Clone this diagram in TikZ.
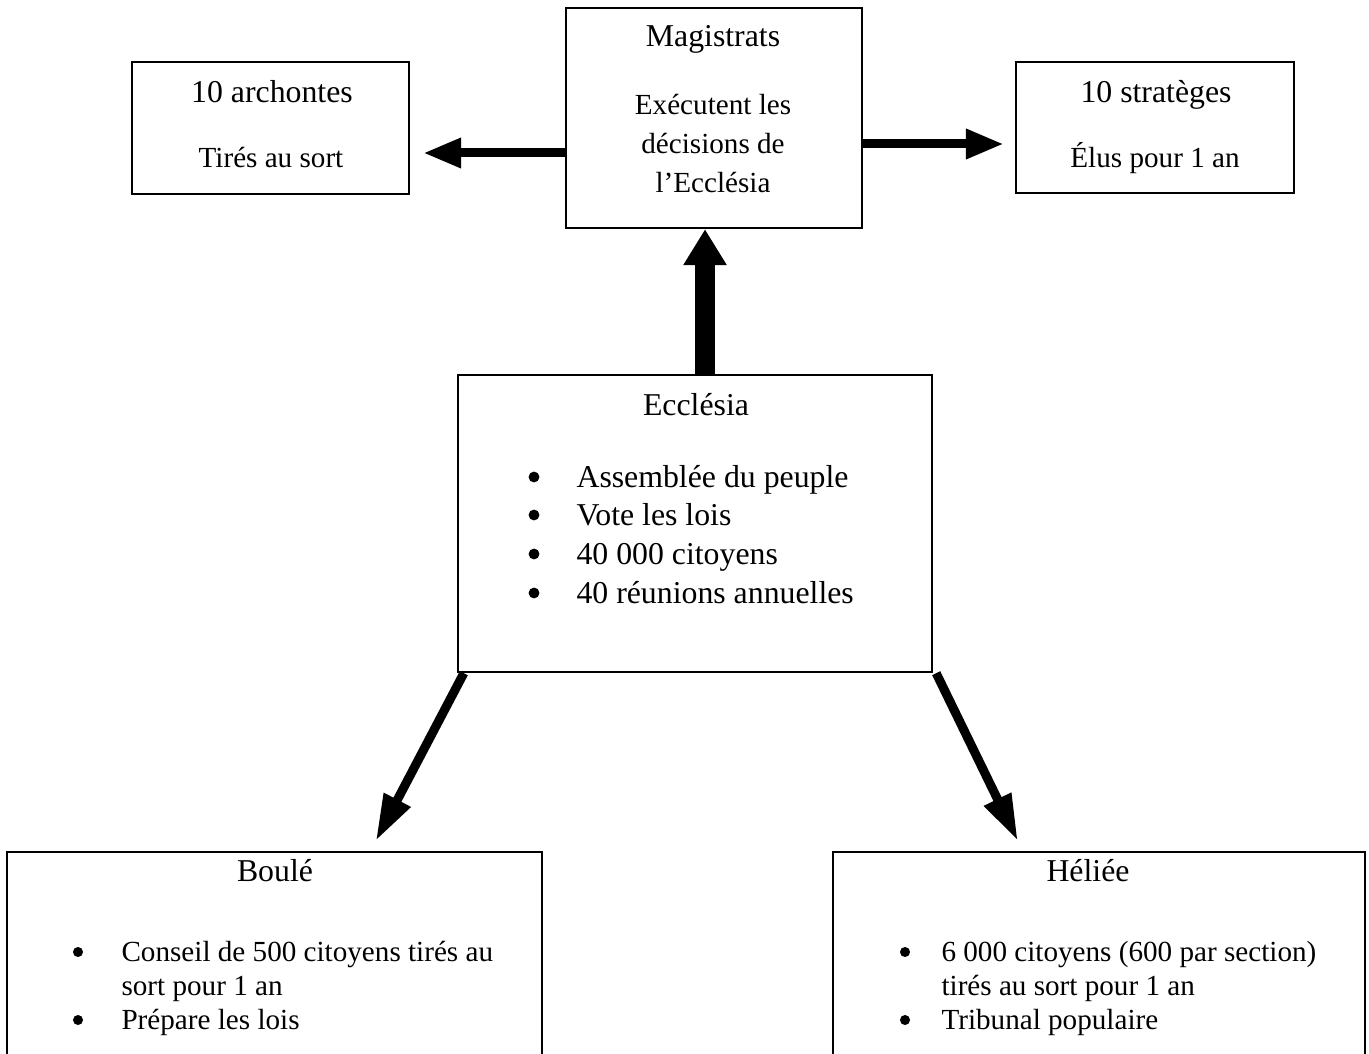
\documentclass[tikz,border=0pt]{standalone}
\usepackage{fontspec}
\setmainfont{Liberation Serif}
\usetikzlibrary{arrows.meta,fit,calc}
\begin{document}
\begin{tikzpicture}[x=0.3774pt, y=-0.3774pt,
  box/.style={draw, line width=0.9pt, inner sep=0pt},
  ttl/.style={anchor=base, inner sep=0pt, font=\fontsize{12}{14}\selectfont},
  sub/.style={anchor=base, inner sep=0pt, font=\fontsize{11}{13}\selectfont},
  eitem/.style={anchor=base west, inner sep=0pt, font=\fontsize{12}{14}\selectfont},
  ebul/.style={circle, fill, inner sep=0pt, minimum size=4.1pt},
  bitem/.style={anchor=base west, inner sep=0pt, font=\fontsize{11}{13}\selectfont},
  bbul/.style={circle, fill, inner sep=0pt, minimum size=3.8pt},
  arrowthin/.style={line width=3.4pt, -{Triangle[length=14.3pt, width=10.6pt]}},
  arrowdiag/.style={line width=3.4pt, -{Triangle[length=17.5pt, width=10.6pt]}},
  arrowthick/.style={line width=7.9pt, -{Triangle[length=13.6pt, width=15.5pt]}}
]
\useasboundingbox (0,0) rectangle (1369,1053);
\clip (0,0) rectangle (1369,1053);
\fill[white] (0,0) rectangle (1369,1053);

% box corners
\coordinate (magA) at (566,8);   \coordinate (magB) at (862,228);
\coordinate (arcA) at (132,62);  \coordinate (arcB) at (409,194);
\coordinate (strA) at (1016,62); \coordinate (strB) at (1294,193);
\coordinate (eccA) at (458,375); \coordinate (eccB) at (932,672);
\coordinate (bouA) at (7,852);   \coordinate (bouB) at (542,1070);
\coordinate (helA) at (833,852); \coordinate (helB) at (1365,1070);

\node[box, fit=(magA)(magB)] (mag) {};
\node[box, fit=(arcA)(arcB)] (arc) {};
\node[box, fit=(strA)(strB)] (str) {};
\node[box, fit=(eccA)(eccB)] (ecc) {};
\node[box, fit=(bouA)(bouB)] (bou) {};
\node[box, fit=(helA)(helB)] (hel) {};

% Magistrats
\node[ttl] (magT) at (713,47) {Magistrats};
\node[sub] (magL1) at (713,115) {Exécutent les};
\node[sub] (magL2) at (713,154) {décisions de};
\node[sub] (magL3) at (713,193) {l’Ecclésia};

% archontes
\node[ttl] (arcT) at (272,103) {10 archontes};
\node[sub] (arcL) at (271,168) {Tirés au sort};

% strateges
\node[ttl] (strT) at (1156,103) {10 stratèges};
\node[sub] (strL) at (1155,168) {Élus pour 1 an};

% Ecclesia
\node[ttl] (eccT) at (696,415) {Ecclésia};
\node[ebul] (eccB1) at (534,477) {};
\node[ebul] (eccB2) at (534,515) {};
\node[ebul] (eccB3) at (534,554) {};
\node[ebul] (eccB4) at (534,593) {};
\node[eitem] (eccI1) at (576,487) {Assemblée du peuple};
\node[eitem] (eccI2) at (576,525) {Vote les lois};
\node[eitem] (eccI3) at (576,564) {40 000 citoyens};
\node[eitem] (eccI4) at (576,603) {40 réunions annuelles};

% Boule
\node[ttl] (bouT) at (275,881) {Boulé};
\node[bbul] (bouB1) at (78,952) {};
\node[bbul] (bouB2) at (78,1020) {};
\node[bitem] (bouI1) at (121,961) {Conseil de 500 citoyens tirés au};
\node[bitem] (bouI1b) at (121,995) {sort pour 1 an};
\node[bitem] (bouI2) at (121,1029) {Prépare les lois};

% Heliee
\node[ttl] (helT) at (1088,881) {Héliée};
\node[bbul] (helB1) at (905,952) {};
\node[bbul] (helB2) at (905,1020) {};
\node[bitem] (helI1) at (941,961) {6 000 citoyens (600 par section)};
\node[bitem] (helI1b) at (941,995) {tirés au sort pour 1 an};
\node[bitem] (helI2) at (941,1029) {Tribunal populaire};

% arrows
\draw[arrowthin, shorten >=4.9pt] (mag.west |- 0,153) -- (arc.east |- 0,153);
\draw[arrowthin, shorten >=4.15pt] (mag.east |- 0,144) -- (str.west |- 0,144);
\draw[arrowthick] (ecc.north -| 705,0) -- (mag.south -| 705,0);
\draw[arrowdiag] ($(ecc.south west)+(7,0)$) -- ($(bou.north west)+(370,-10)$);
\draw[arrowdiag] ($(ecc.south east)+(3,0)$) -- ($(hel.north west)+(186,-10)$);
\end{tikzpicture}
\end{document}
